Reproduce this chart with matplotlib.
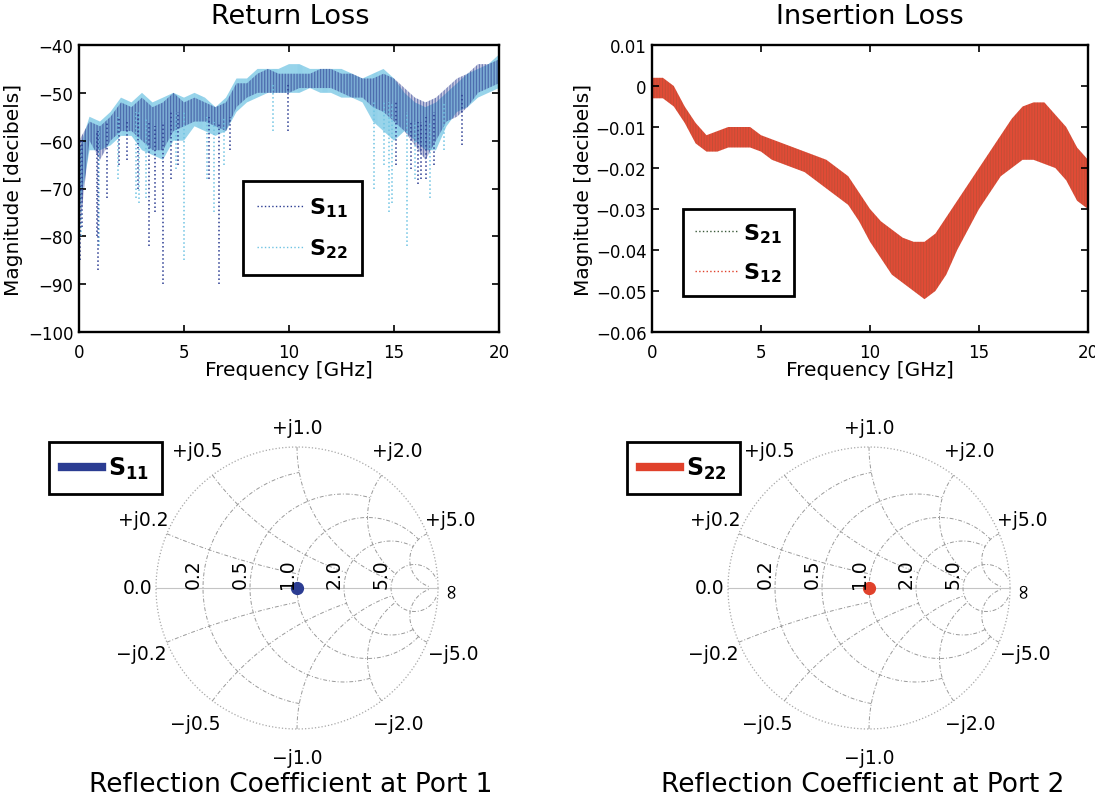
import numpy as np
import matplotlib
matplotlib.use('Agg')
import matplotlib.pyplot as plt
from matplotlib.lines import Line2D

plt.rcParams['font.family'] = ['DejaVu Sans']
plt.rcParams['mathtext.fontset'] = 'dejavusans'
plt.rcParams['hatch.linewidth'] = 0.6

# ---------------- data ----------------
freq = [0, 0.5, 1, 1.5, 2, 2.5, 3, 3.5, 4, 4.5, 5, 5.5, 6, 6.5, 7, 7.5, 8, 8.5, 9, 9.5, 10,
        10.5, 11, 11.5, 12, 12.5, 13, 13.5, 14, 14.5, 15, 15.5, 16, 16.5, 17, 17.5, 18, 18.5, 19, 19.5, 20]

s11_upper = [-60, -56, -57, -55, -52, -53, -51, -53, -52, -50, -52, -51, -52, -53, -52, -48, -48, -46, -45, -46, -46,
             -46, -46, -45, -45, -46, -46, -47, -47, -46, -47, -49, -51, -52, -51, -49, -47, -46, -44, -44, -43]
s11_lower = [-80, -60, -64, -60, -58, -58, -60, -62, -62, -58, -57, -56, -56, -57, -58, -53, -51, -50, -50, -50, -50,
             -49, -49, -49, -49, -50, -51, -51, -53, -54, -56, -58, -61, -64, -60, -56, -55, -53, -50, -49, -48]
s22_upper = [-62, -55, -56, -54, -51, -52, -50, -52, -51, -50, -51, -50, -51, -53, -51, -47, -47, -45, -45, -45, -44,
             -44, -45, -45, -45, -45, -46, -47, -46, -45, -47, -50, -52, -53, -52, -50, -48, -46, -45, -44, -42]
s22_lower = [-75, -62, -62, -61, -59, -59, -62, -63, -64, -60, -60, -57, -58, -59, -58, -54, -52, -51, -50, -50, -50,
             -50, -49, -50, -50, -51, -51, -52, -56, -58, -60, -58, -60, -62, -62, -57, -54, -53, -51, -50, -49]

s11_dip_freq = [0.05, 0.15, 0.85, 0.9, 1.35, 1.9, 2.3, 2.8, 3.35, 3.6, 4.0, 4.4, 4.7, 6.2, 6.65, 7.2, 9.95,
                15.1, 15.8, 16.15, 16.3, 16.5, 16.9, 18.25]
s11_dip_top = [-60, -60, -58, -58, -56, -55, -56, -54, -56, -57, -56, -54, -54, -55, -56, -55, -48,
               -52, -56, -56, -56, -55, -54, -50]
s11_dip_depth = [-85, -78, -80, -87, -72, -65, -64, -70, -82, -75, -90, -68, -65, -68, -90, -62, -58,
                 -65, -66, -69, -68, -68, -65, -61]

s22_dip_freq = [0.1, 0.95, 1.85, 2.7, 2.85, 3.2, 4.6, 5.0, 6.1, 6.45, 6.9, 9.25, 14.05, 14.5, 14.75, 14.9,
                15.6, 16.0, 16.7, 17.4]
s22_dip_top = [-62, -58, -55, -54, -54, -55, -54, -54, -55, -56, -55, -48, -52, -52, -52, -52, -54, -56, -56, -52]
s22_dip_depth = [-80, -82, -68, -72, -73, -72, -66, -85, -68, -75, -65, -58, -70, -65, -75, -73, -82, -68, -72, -62]

il_upper = [0.002, 0.002, 0.0, -0.005, -0.009, -0.012, -0.011, -0.010, -0.010, -0.010, -0.012, -0.013, -0.014,
            -0.015, -0.016, -0.017, -0.018, -0.020, -0.022, -0.026, -0.030, -0.033, -0.035, -0.037, -0.038,
            -0.038, -0.036, -0.032, -0.028, -0.024, -0.020, -0.016, -0.012, -0.008, -0.005, -0.004, -0.004,
            -0.007, -0.010, -0.015, -0.018]
il_lower = [-0.003, -0.003, -0.005, -0.009, -0.014, -0.016, -0.016, -0.015, -0.015, -0.015, -0.016, -0.018,
            -0.019, -0.020, -0.021, -0.023, -0.025, -0.027, -0.029, -0.033, -0.038, -0.042, -0.046, -0.048,
            -0.050, -0.052, -0.050, -0.046, -0.040, -0.035, -0.030, -0.026, -0.022, -0.020, -0.018, -0.018,
            -0.019, -0.020, -0.023, -0.028, -0.030]

rl_yticks = [-100, -90, -80, -70, -60, -50, -40]
il_yticks = [-0.06, -0.05, -0.04, -0.03, -0.02, -0.01, 0, 0.01]
il_yticklabels = ['\u22120.06', '\u22120.05', '\u22120.04', '\u22120.03', '\u22120.02', '\u22120.01', '0', '0.01']
f_ticks = [0, 5, 10, 15, 20]

smith_values = [0.2, 0.5, 1.0, 2.0, 5.0]
smith_limits = [1.0, 2.0, 5.0, 5.0, 30.0]
smith_r_labels = ['0.2', '0.5', '1.0', '2.0', '5.0']
smith_x_labels_pos = ['+j0.2', '+j0.5', '+j1.0', '+j2.0', '+j5.0']
smith_x_labels_neg = ['\u2212j0.2', '\u2212j0.5', '\u2212j1.0', '\u2212j2.0', '\u2212j5.0']

s11_gamma_re = [0.0]
s11_gamma_im = [0.0]
s22_gamma_re = [0.0]
s22_gamma_im = [0.0]

# ---------------- colors ----------------
NAVY = '#2b3c92'
CYAN = '#6fc3e3'
RED = '#e0412b'
DGREEN = '#3b5a3a'

W, H = 1095, 803
fig = plt.figure(figsize=(W / 100, H / 100), dpi=100)


def fax(x0, y0, x1, y1):
    return fig.add_axes([x0 / W, 1 - y1 / H, (x1 - x0) / W, (y1 - y0) / H])


def style_axes(ax, xlabel_y, ylabel_x):
    for s in ax.spines.values():
        s.set_linewidth(1.7)
    ax.tick_params(direction='in', top=True, right=True, length=5, width=1.2, labelsize=12)
    ax.tick_params(axis='x', pad=8)
    ax.tick_params(axis='y', pad=4)
    ax.set_xlabel('Frequency [GHz]', fontsize=14.5, va='center')
    ax.set_ylabel('Magnitude [decibels]', fontsize=14.5, va='center')
    ax.xaxis.set_label_coords(0.5, xlabel_y)
    ax.yaxis.set_label_coords(ylabel_x, 0.5)


def leg_text(sub):
    return r'$\mathbf{S}_{\mathbf{' + sub + '}}$'


def add_legend(handles, labels, x0, y0, hl, spacing, pad, fs=16):
    lg = fig.legend(handles, labels, loc='upper left', bbox_to_anchor=(x0 / W, 1 - y0 / H),
                    borderaxespad=0, fontsize=fs, fancybox=False, edgecolor='black', framealpha=1,
                    handlelength=hl, labelspacing=spacing, borderpad=pad, handletextpad=0.25)
    lg.get_frame().set_linewidth(2)
    return lg


# ---------------- Return loss ----------------
ax1 = fax(79, 46, 499, 333)
ax1.fill_between(freq, s22_lower, s22_upper, facecolor='none', edgecolor=CYAN, hatch='|' * 16, lw=0, alpha=0.9)
ax1.fill_between(freq, s11_lower, s11_upper, facecolor='none', edgecolor=NAVY, hatch='|' * 11, lw=0, alpha=0.8)
ax1.vlines(s22_dip_freq, s22_dip_depth, s22_dip_top, colors=CYAN, linestyles=':', lw=1.1)
ax1.vlines(s11_dip_freq, s11_dip_depth, s11_dip_top, colors=NAVY, linestyles=':', lw=1.1)
ax1.set_xlim(0, 20)
ax1.set_ylim(-100, -40)
ax1.set_xticks(f_ticks)
ax1.set_yticks(rl_yticks)
ax1.set_yticklabels([str(v).replace('-', '\u2212') for v in rl_yticks])
style_axes(ax1, -0.129, -0.155)
h1 = [Line2D([], [], color=NAVY, ls=':', lw=1), Line2D([], [], color=CYAN, ls=':', lw=1)]
add_legend(h1, [leg_text('11'), leg_text('22')], 243, 182, 2.05, 0.8, 0.65)
fig.text(290 / W, 1 - 17 / H, 'Return Loss', ha='center', va='center', fontsize=19.5)

# ---------------- Insertion loss ----------------
ax2 = fax(652, 46, 1088, 333)
ax2.fill_between(freq, il_lower, il_upper, facecolor=RED, lw=0, alpha=0.95)
ax2.fill_between(freq, il_lower, il_upper, facecolor='none', edgecolor=DGREEN, hatch='|' * 6, lw=0, alpha=0.2)
ax2.set_xlim(0, 20)
ax2.set_ylim(-0.06, 0.01)
ax2.set_xticks(f_ticks)
ax2.set_yticks(il_yticks)
ax2.set_yticklabels(il_yticklabels)
style_axes(ax2, -0.129, -0.158)
h2 = [Line2D([], [], color=DGREEN, ls=':', lw=1), Line2D([], [], color=RED, ls=':', lw=1)]
add_legend(h2, [leg_text('21'), leg_text('12')], 683, 210, 1.9, 0.7, 0.55)
fig.text(870 / W, 1 - 17 / H, 'Insertion Loss', ha='center', va='center', fontsize=19.5)


# ---------------- Smith charts ----------------
R_PX = 141.0
HALF = 210.0


def smith(cx, cy, gre, gim, color, title):
    ax = fax(cx - HALF, cy - HALF, cx + HALF, cy + HALF)
    lim = HALF / R_PX
    ax.set_xlim(-lim, lim)
    ax.set_ylim(-lim, lim)
    ax.axis('off')
    gc = '#9a9a9a'
    t = np.linspace(0, 2 * np.pi, 500)
    ax.plot(np.cos(t), np.sin(t), color='#a8a8a8', ls=':', lw=0.9)
    ax.plot([-1, 1], [0, 0], color='#c4c4c4', lw=0.8)
    for v, lm in zip(smith_values, smith_limits):
        xx = np.linspace(-lm, lm, 600)
        g = (v + 1j * xx - 1) / (v + 1j * xx + 1)
        ax.plot(g.real, g.imag, color=gc, ls=(0, (4, 2, 1, 2)), lw=0.7)
        rr = np.linspace(0, lm, 600)
        for sgn in (1, -1):
            g = (rr + 1j * sgn * v - 1) / (rr + 1j * sgn * v + 1)
            ax.plot(g.real, g.imag, color=gc, ls=(0, (4, 2, 1, 2)), lw=0.7)
    for v, lab in zip(smith_values, smith_r_labels):
        gr = (v - 1) / (v + 1)
        ax.text(gr - 0.07, 0.105, lab, rotation=90, ha='center', va='center', fontsize=13.5)
    for v, lp, ln in zip(smith_values, smith_x_labels_pos, smith_x_labels_neg):
        g = (1j * v - 1) / (1j * v + 1)
        ang = np.angle(g)
        rad = 1.11 if v == 1.0 else 1.18
        ax.text(rad * np.cos(ang), rad * np.sin(ang) + 0.03, lp, ha='center', va='center', fontsize=13.5)
        ax.text(1.2 * np.cos(ang), -1.2 * np.sin(ang), ln, ha='center', va='center', fontsize=13.5)
    ax.text(-1.128, 0, '0.0', ha='center', va='center', fontsize=13.5)
    ax.text(1.085, 0, '\u221e', rotation=90, ha='center', va='center', fontsize=15)
    ax.plot(gre, gim, 'o', color=color, ms=8.5, mec=color)
    fig.text(cx / W - 0.006, 1 - 785 / H, title, ha='center', va='center', fontsize=19)
    return ax


smith(297, 589, s11_gamma_re, s11_gamma_im, NAVY, 'Reflection Coefficient at Port 1')
smith(869, 589, s22_gamma_re, s22_gamma_im, RED, 'Reflection Coefficient at Port 2')

for x0, col, sub in [(49, NAVY, '11'), (627, RED, '22')]:
    add_legend([Line2D([], [], color=col, lw=6)], [leg_text(sub)], x0, 443, 1.7, 0.5, 0.55, fs=17)

fig.savefig('out.png', dpi=100)
